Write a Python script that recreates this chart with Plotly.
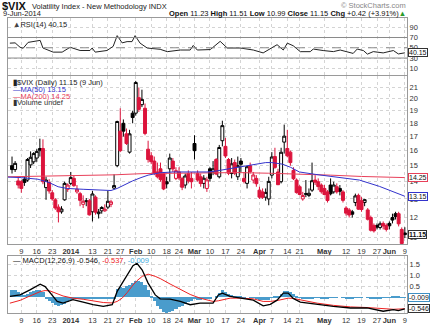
import math
import plotly.graph_objects as go

# ---------------- data ----------------
prev_close = 14.55
day = list(range(-3, 125))   # trading-day index, 0 = 9 Dec 2013, 124 = 9 Jun 2014

opens = [15.00, 14.75, 14.05, 14.00, 14.15, 14.10, 15.05, 15.25, 15.50, 16.00,
         16.15, 13.65, 13.95, 13.35, 12.95, 12.55, 12.30, 12.95, 13.55, 13.90,
         14.20, 13.40, 13.30, 12.70, 12.85, 12.90, 12.30, 13.10, 12.20, 12.35,
         12.35, 12.55, 12.70, 13.62, 15.00, 17.40, 18.00, 17.20, 15.90, 18.80,
         18.80, 20.10, 19.50, 19.20, 16.10, 15.65, 15.30, 14.60, 14.80, 14.50,
         14.00, 14.80, 15.30, 14.20, 14.60, 14.20, 13.80, 14.50, 14.20, 16.50,
         14.50, 14.30, 13.90, 13.60, 14.80, 14.60, 15.40, 14.30, 16.70, 16.30,
         15.40, 14.50, 15.20, 14.30, 15.30, 14.20, 13.90, 15.00, 14.10, 14.20,
         13.50, 13.40, 13.10, 13.00, 14.40, 15.60, 14.60, 14.00, 16.60, 16.15,
         15.90, 14.70, 14.10, 13.70, 13.00, 13.30, 13.20, 13.50, 14.10, 14.00,
         13.80, 13.60, 13.40, 13.80, 13.40, 13.70, 13.60, 13.40, 12.50, 12.40,
         12.30, 12.80, 13.20, 12.90, 12.80, 12.40, 12.00, 11.60, 11.60, 11.50,
         11.70, 11.60, 11.70, 12.00, 12.20, 12.20, 11.40, 11.23]
highs = [15.60, 15.30, 14.25, 14.10, 14.30, 15.50, 15.95, 15.90, 16.10, 16.85,
         16.80, 14.30, 14.15, 13.50, 13.05, 12.70, 12.60, 14.00, 13.90, 14.60,
         14.35, 13.80, 13.40, 13.20, 13.05, 13.00, 13.45, 13.20, 12.45, 12.60,
         12.70, 13.45, 12.95, 14.45, 18.20, 19.20, 18.30, 17.60, 17.50, 19.00,
         21.60, 21.00, 20.80, 19.60, 16.70, 15.90, 15.60, 15.20, 15.20, 14.60,
         14.30, 15.80, 15.50, 14.90, 14.90, 14.30, 14.50, 14.70, 14.60, 17.10,
         14.70, 14.50, 14.40, 14.30, 14.90, 15.30, 15.50, 16.40, 18.20, 16.90,
         15.50, 15.50, 15.40, 15.60, 15.50, 14.60, 15.00, 15.20, 14.60, 14.40,
         13.70, 13.60, 13.60, 14.30, 15.90, 16.20, 14.80, 16.20, 17.90, 17.50,
         16.00, 14.90, 14.20, 13.80, 13.40, 14.10, 13.60, 15.20, 14.40, 14.20,
         13.90, 13.80, 13.50, 14.20, 14.00, 13.90, 13.80, 13.50, 12.60, 12.50,
         12.40, 13.30, 13.30, 13.10, 13.00, 12.50, 12.10, 11.70, 11.70, 11.80,
         11.80, 11.70, 11.80, 12.20, 12.30, 12.30, 11.50, 11.51]
lows = [14.50, 14.60, 13.60, 13.35, 13.75, 14.00, 14.85, 15.10, 15.25, 15.60,
        13.85, 12.95, 13.30, 12.90, 12.40, 11.75, 12.20, 12.90, 13.40, 13.80,
        13.70, 13.30, 12.60, 12.50, 12.60, 12.10, 11.80, 12.15, 11.95, 12.20,
        12.30, 12.45, 12.55, 13.55, 14.90, 15.90, 17.00, 16.40, 15.80, 18.00,
        18.60, 18.90, 19.30, 17.10, 15.20, 15.10, 14.40, 14.20, 14.00, 13.50,
        13.60, 14.00, 14.60, 14.10, 14.10, 13.50, 13.60, 13.90, 13.60, 15.40,
        14.00, 13.70, 13.60, 13.40, 14.00, 14.40, 14.40, 14.20, 16.30, 15.50,
        14.40, 14.20, 14.40, 14.10, 14.60, 13.90, 13.60, 14.50, 13.90, 13.70,
        13.00, 13.00, 12.90, 12.65, 14.20, 14.80, 13.80, 13.90, 15.80, 15.55,
        15.00, 14.10, 13.30, 13.20, 12.90, 13.10, 13.10, 13.40, 13.80, 13.50,
        13.30, 13.20, 12.80, 13.20, 13.30, 13.30, 13.20, 12.80, 12.10, 12.00,
        12.00, 12.60, 12.40, 12.30, 12.60, 11.85, 11.30, 11.25, 11.40, 11.40,
        11.40, 11.30, 11.40, 11.70, 11.90, 11.55, 10.70, 10.99]
closes = [14.75, 15.15, 13.80, 13.60, 13.95, 15.40, 15.55, 15.80, 15.95, 16.15,
          14.00, 14.10, 13.45, 13.00, 12.50, 12.30, 12.45, 13.90, 13.80, 14.25,
          13.76, 13.55, 12.92, 12.87, 12.89, 12.14, 13.28, 12.28, 12.29, 12.53,
          12.44, 12.87, 12.84, 13.77, 18.14, 16.00, 17.40, 16.50, 17.20, 18.45,
          21.45, 19.11, 19.95, 17.23, 15.40, 15.26, 14.51, 14.30, 14.14, 13.57,
          13.87, 15.50, 14.79, 14.68, 14.23, 13.67, 14.35, 14.04, 14.00, 16.00,
          14.10, 13.89, 14.21, 14.11, 14.20, 14.80, 14.47, 16.22, 17.82, 15.64,
          14.52, 15.12, 14.52, 15.00, 15.09, 14.02, 14.93, 14.62, 14.41, 13.88,
          13.10, 13.09, 13.37, 14.02, 15.57, 14.89, 13.82, 15.89, 17.03, 15.65,
          15.20, 14.18, 13.36, 13.25, 13.19, 13.27, 13.32, 14.06, 13.97, 13.71,
          13.41, 13.25, 12.91, 13.29, 13.80, 13.40, 13.43, 12.92, 12.23, 12.13,
          12.17, 13.17, 12.44, 12.42, 12.96, 11.91, 11.36, 11.33, 11.51, 11.68,
          11.57, 11.40, 11.58, 11.87, 12.05, 11.68, 10.73, 11.15]

ma50_day = [-4.3, 0, 5.4, 9, 11.9, 14.8, 20, 23.2, 29, 31, 33.6, 36, 38.7, 41, 44.9,
            49, 55, 60, 62.7, 67, 72.4, 76, 79, 81, 84.4, 87, 89.9, 95, 102.8,
            109.3, 115.8, 121, 124]
ma50_val = [14.28, 14.25, 14.15, 13.95, 13.70, 13.60, 13.55, 13.52, 13.48, 13.60,
            13.85, 14.05, 14.25, 14.40, 14.55, 14.60, 14.60, 14.60, 14.65, 14.80,
            15.00, 15.10, 15.20, 15.20, 15.10, 14.90, 14.60, 14.45, 14.25, 14.10,
            13.72, 13.35, 13.15]
ma200_day = [-4.3, 10, 20, 30, 40, 50, 60, 70, 80, 90, 100, 110, 124]
ma200_val = [14.30, 14.35, 14.38, 14.42, 14.50, 14.53, 14.56, 14.56, 14.52, 14.47,
             14.40, 14.32, 14.25]

rsi_day = [-3.7, -2.0, -0.4, 0.6, 2.2, 6.1, 7.0, 10.3, 13.2, 15.8, 19.0, 22.2, 22.9,
           23.9, 27.7, 29.7, 31.0, 32.6, 34.2, 35.8, 36.8, 38.4, 40.7, 44.9, 47.2,
           51.4, 54.6, 55.6, 56.9, 61.1, 64.3, 66.6, 70.8, 75.0, 78.2, 80.5, 82.7,
           84.7, 86.0, 87.9, 90.2, 93.4, 94.4, 97.6, 100.9, 103.1, 105.4, 107.3,
           108.6, 110.6, 111.9, 113.8, 117.0, 120.3, 121.9, 124]
rsi_val = [59, 59.5, 51, 49, 60.5, 64.4, 49.5, 41.5, 41.5, 51, 44.7, 44.7, 49.5,
           41.5, 44.7, 52.7, 73.7, 59.5, 62, 62, 73.7, 59, 49.5, 47, 42.4, 45.6,
           45.6, 54.6, 45.6, 46.5, 62.5, 49.5, 49.5, 45.6, 40, 47.5, 56, 45.6, 59,
           54, 42.4, 42.4, 47.5, 44.6, 42.5, 45.6, 42.5, 39, 47.5, 44.6, 37.6, 42.5,
           40, 44.6, 38, 40.15]

macd_day = [-3.7, -0.4, 2.8, 6.1, 7.7, 9.3, 11.6, 13.5, 16.7, 20.0, 23.2, 26.5, 29.4,
            31.0, 32.6, 34.2, 36.1, 37.4, 39.1, 41.0, 43.3, 44.9, 48.1, 51.4, 54.6,
            57.8, 62.0, 63.7, 65.0, 67.5, 70.8, 75.0, 78.2, 80.5, 82.7, 84.7, 86.3,
            87.9, 90.2, 95.7, 100.9, 106.4, 111.8, 117.0, 120.3, 121.9, 124]
macd_val = [0.03, 0.10, 0.33, 0.59, 0.48, 0.18, -0.20, -0.28, -0.12, -0.23, -0.35,
            -0.43, -0.35, 0.26, 0.64, 1.00, 1.44, 1.55, 1.24, 0.64, 0.10, -0.08,
            -0.09, -0.20, -0.35, -0.28, -0.28, 0.10, 0.18, 0.03, -0.06, -0.14,
            -0.40, -0.33, -0.14, 0.18, 0.18, -0.06, -0.23, -0.35, -0.43, -0.50,
            -0.50, -0.65, -0.58, -0.62, -0.546]
sig_day = [-3.7, -0.4, 2.8, 6.1, 7.7, 9.3, 13.5, 16.7, 20.0, 23.2, 26.5, 29.4, 31.0,
           32.6, 34.2, 36.1, 37.4, 39.1, 41.0, 43.3, 44.9, 48.1, 51.4, 54.6, 57.8,
           62.0, 63.7, 65.0, 67.5, 70.8, 75.0, 78.2, 80.5, 82.7, 84.7, 86.3, 87.9,
           90.2, 95.7, 100.9, 106.4, 111.8, 117.0, 120.3, 124]
sig_val = [-0.28, -0.15, 0.05, 0.25, 0.30, 0.28, 0.05, -0.05, -0.10, -0.18, -0.25,
           -0.27, -0.20, -0.05, 0.20, 0.55, 0.75, 0.95, 1.05, 0.95, 0.85, 0.60, 0.35,
           0.12, -0.05, -0.20, -0.17, -0.12, -0.05, -0.05, -0.08, -0.20, -0.20,
           -0.16, -0.08, -0.05, -0.06, -0.12, -0.28, -0.38, -0.45, -0.48, -0.55,
           -0.56, -0.537]
hist_val = [0.30, 0.30, 0.25, 0.15, 0.10, 0.15, 0.22, 0.28, 0.30, 0.32,
            0.22, -0.05, -0.18, -0.28, -0.35, -0.40, -0.38, -0.30, -0.22, -0.12,
            -0.08, -0.06, -0.05, -0.05, -0.06, -0.08, -0.06, -0.07, -0.08, -0.08,
            -0.09, -0.08, -0.08, -0.05, 0.35, 0.45, 0.40, 0.50, 0.55, 0.62,
            0.75, 0.72, 0.70, 0.55, 0.30, 0.05, -0.20, -0.40, -0.55, -0.68,
            -0.75, -0.70, -0.65, -0.55, -0.48, -0.40, -0.32, -0.25, -0.20, -0.10,
            -0.12, -0.12, -0.10, -0.08, -0.05, 0.00, 0.05, 0.18, 0.30, 0.25,
            0.15, 0.10, 0.05, 0.03, 0.02, -0.02, 0.00, -0.02, -0.04, -0.08,
            -0.12, -0.15, -0.15, -0.12, -0.02, 0.05, 0.05, 0.15, 0.28, 0.28,
            0.22, 0.12, 0.02, -0.04, -0.07, -0.08, -0.08, -0.05, -0.04, -0.04,
            -0.05, -0.05, -0.06, -0.04, -0.01, -0.01, 0.00, -0.02, -0.05, -0.07,
            -0.06, -0.02, -0.03, -0.03, 0.00, -0.04, -0.07, -0.08, -0.07, -0.05,
            -0.04, -0.04, -0.02, 0.02, 0.03, 0.03, -0.03, -0.01]

tick_days = [0, 5, 10, 16, 23, 28, 32, 37, 42, 47, 51, 56, 61, 66, 71, 77, 81, 86,
             90, 98, 105, 110, 115, 119, 124]
tick_text = ['9', '16', '23', '<b>2014</b>', '13', '21', '27', '<b>Feb</b>', '10',
             '18', '24', '<b>Mar</b>', '10', '17', '24', '<b>Apr</b>', '7', '14', '21',
             '<b>May</b>', '12', '19', '27', '<b>Jun</b>', '9']
price_ticks = [11, 12, 13, 14, 15, 16, 17, 18, 19, 20, 21]
rsi_ticks = [10, 30, 50, 70, 90]
macd_ticks = [0.5, 1.0, 1.5]
macd_tick_text = ["0.5", "1.0", "1.5"]

# ---------------- figure ----------------
W, H = 431, 326
ML, MR, MT, MB = 8, 24, 18, 13
PW, PH = W - ML - MR, H - MT - MB
FONT = "Liberation Sans"
RED = "#dc143c"
BLACK = "#000000"
BLUE = "#3333cc"
MARED = "#e8405a"


def px(x):
    return (x - ML) / PW


def py(y):
    return (H - MB - y) / PH


fig = go.Figure()

# candles: colour by change vs previous close
prevs = [prev_close] + closes[:-1]
for colour, want_red in ((BLACK, False), (RED, True)):
    idx = [i for i in range(len(day)) if (closes[i] < prevs[i]) == want_red]
    fig.add_trace(go.Candlestick(
        x=[day[i] for i in idx], open=[opens[i] for i in idx],
        high=[highs[i] for i in idx], low=[lows[i] for i in idx],
        close=[closes[i] for i in idx], xaxis="x2", yaxis="y2",
        increasing=dict(line=dict(color=colour, width=1), fillcolor="white"),
        decreasing=dict(line=dict(color=colour, width=1), fillcolor=colour),
        whiskerwidth=0, showlegend=False, hoverinfo="skip"))

fig.add_trace(go.Scatter(x=ma200_day, y=ma200_val, mode="lines", xaxis="x2", yaxis="y2",
                         line=dict(color=MARED, width=1), showlegend=False))
fig.add_trace(go.Scatter(x=ma50_day, y=ma50_val, mode="lines", xaxis="x2", yaxis="y2",
                         line=dict(color=BLUE, width=1), showlegend=False))

fig.add_trace(go.Scatter(x=rsi_day, y=rsi_val, mode="lines", xaxis="x", yaxis="y",
                         line=dict(color="#222222", width=1), showlegend=False))

fig.add_trace(go.Bar(x=day, y=hist_val, xaxis="x3", yaxis="y3", width=1.0,
                     marker=dict(color="#4a9ccc", line=dict(width=0)), showlegend=False))
fig.add_trace(go.Scatter(x=sig_day, y=sig_val, mode="lines", xaxis="x3", yaxis="y3",
                         line=dict(color="#ee2222", width=1), showlegend=False))
fig.add_trace(go.Scatter(x=macd_day, y=macd_val, mode="lines", xaxis="x3", yaxis="y3",
                         line=dict(color="#000000", width=1.3), showlegend=False))

xr = [-4.3, 124.7]
grid = dict(showgrid=True, gridcolor="#d4d4d4", griddash="dot", gridwidth=1,
            showline=True, linecolor="#9a9a9a", linewidth=1, mirror=True,
            zeroline=False, ticks="", automargin=False, tickangle=0,
            tickfont=dict(family=FONT, size=7.5, color="#333"))

fig.update_layout(
    width=W, height=H, margin=dict(l=ML, r=MR, t=MT, b=MB),
    paper_bgcolor="white", plot_bgcolor="white", bargap=0, showlegend=False,
    boxgap=0.05, boxgroupgap=0,
    xaxis=dict(domain=[0, 1], anchor="y", range=xr, tickvals=tick_days,
               showticklabels=False, **grid),
    xaxis2=dict(domain=[0, 1], anchor="y2", range=xr, tickvals=tick_days,
                ticktext=tick_text, rangeslider=dict(visible=False), **grid),
    xaxis3=dict(domain=[0, 1], anchor="y3", range=xr, tickvals=tick_days,
                ticktext=tick_text, **grid),
    yaxis=dict(domain=[0.806, 1.0], anchor="x", range=[-3.5, 108], side="right",
               tickvals=rsi_ticks, **grid),
    yaxis2=dict(domain=[0.234, 0.803], anchor="x2", type="log",
                range=[1.0298, 1.3434], side="right", tickvals=price_ticks, **grid),
    yaxis3=dict(domain=[0.0, 0.193], anchor="x3", range=[-0.73, 1.88], side="right",
                tickvals=macd_ticks, ticktext=macd_tick_text, **grid),
)

# RSI reference lines
for lvl, dash in ((70, "solid"), (50, "dash"), (30, "solid")):
    fig.add_shape(type="line", xref="x domain", yref="y", x0=0, x1=1, y0=lvl, y1=lvl,
                  line=dict(color="#8a8a8a", width=1, dash=dash))

ann = []


def text(x, y, s, size=7.5, color="#111", anchor="left"):
    ann.append(dict(x=px(x), y=py(y), xref="paper", yref="paper", text=s, showarrow=False,
                    xanchor=anchor, yanchor="middle",
                    font=dict(family=FONT, size=size, color=color)))


text(0, 6, "<b>$VIX</b>", size=11)
text(30, 6.5, "Volatility Index - New Methodology INDX", size=7.5, color="#222")
text(1, 14, "9-Jun-2014", size=7.5, color="#222")
text(408, 14, "<b>Open</b> 11.23 <b>High</b> 11.51 <b>Low</b> 10.99 <b>Close</b> 11.15 "
     "<b>Chg</b> +0.42 (+3.91%)<span style='color:#2a9a2a'>▲</span>", size=7.5, anchor="right")
text(408, 6, "© StockCharts.com", size=7.5, color="#888", anchor="right")

text(11, 24.5, "<span style='color:#444'>▲</span>RSI(14) 40.15", color="#222")

text(11, 82.5, "<b>▮</b>$VIX (Daily) 11.15 (9 Jun)", color="#222")
text(11, 89.5, "—MA(50) 13.15", color=BLUE)
text(11, 96, "—MA(200) 14.25", color=MARED)
text(11, 102.5, "▮Volume undef", color="#333")

text(11, 260.5, "— MACD(12,26,9) -0.546, <span style='color:#ee2222'>-0.537</span>, "
     "<span style='color:#44aadd'>-0.009</span>", color="#111")

fig.update_layout(annotations=ann)


def tag(yref, yval, s, border, bold=False):
    fig.add_annotation(x=1, xref="paper", xanchor="left", xshift=1, y=yval, yref=yref,
                       text=("<b>%s</b>" % s) if bold else s, showarrow=False,
                       font=dict(family=FONT, size=7, color="#111"),
                       bgcolor="white", bordercolor=border, borderwidth=1, borderpad=0)


tag("y", 40.15, "40.15", "#333")
tag("y2", math.log10(14.25), "14.25", MARED)
tag("y2", math.log10(13.15), "13.15", BLUE)
tag("y2", math.log10(11.15), "11.15", "#333", bold=True)
tag("y3", -0.009, "-0.009", "#3d8fc4")
tag("y3", -0.546, "-0.546", "#333")

fig.write_html("out.html")
